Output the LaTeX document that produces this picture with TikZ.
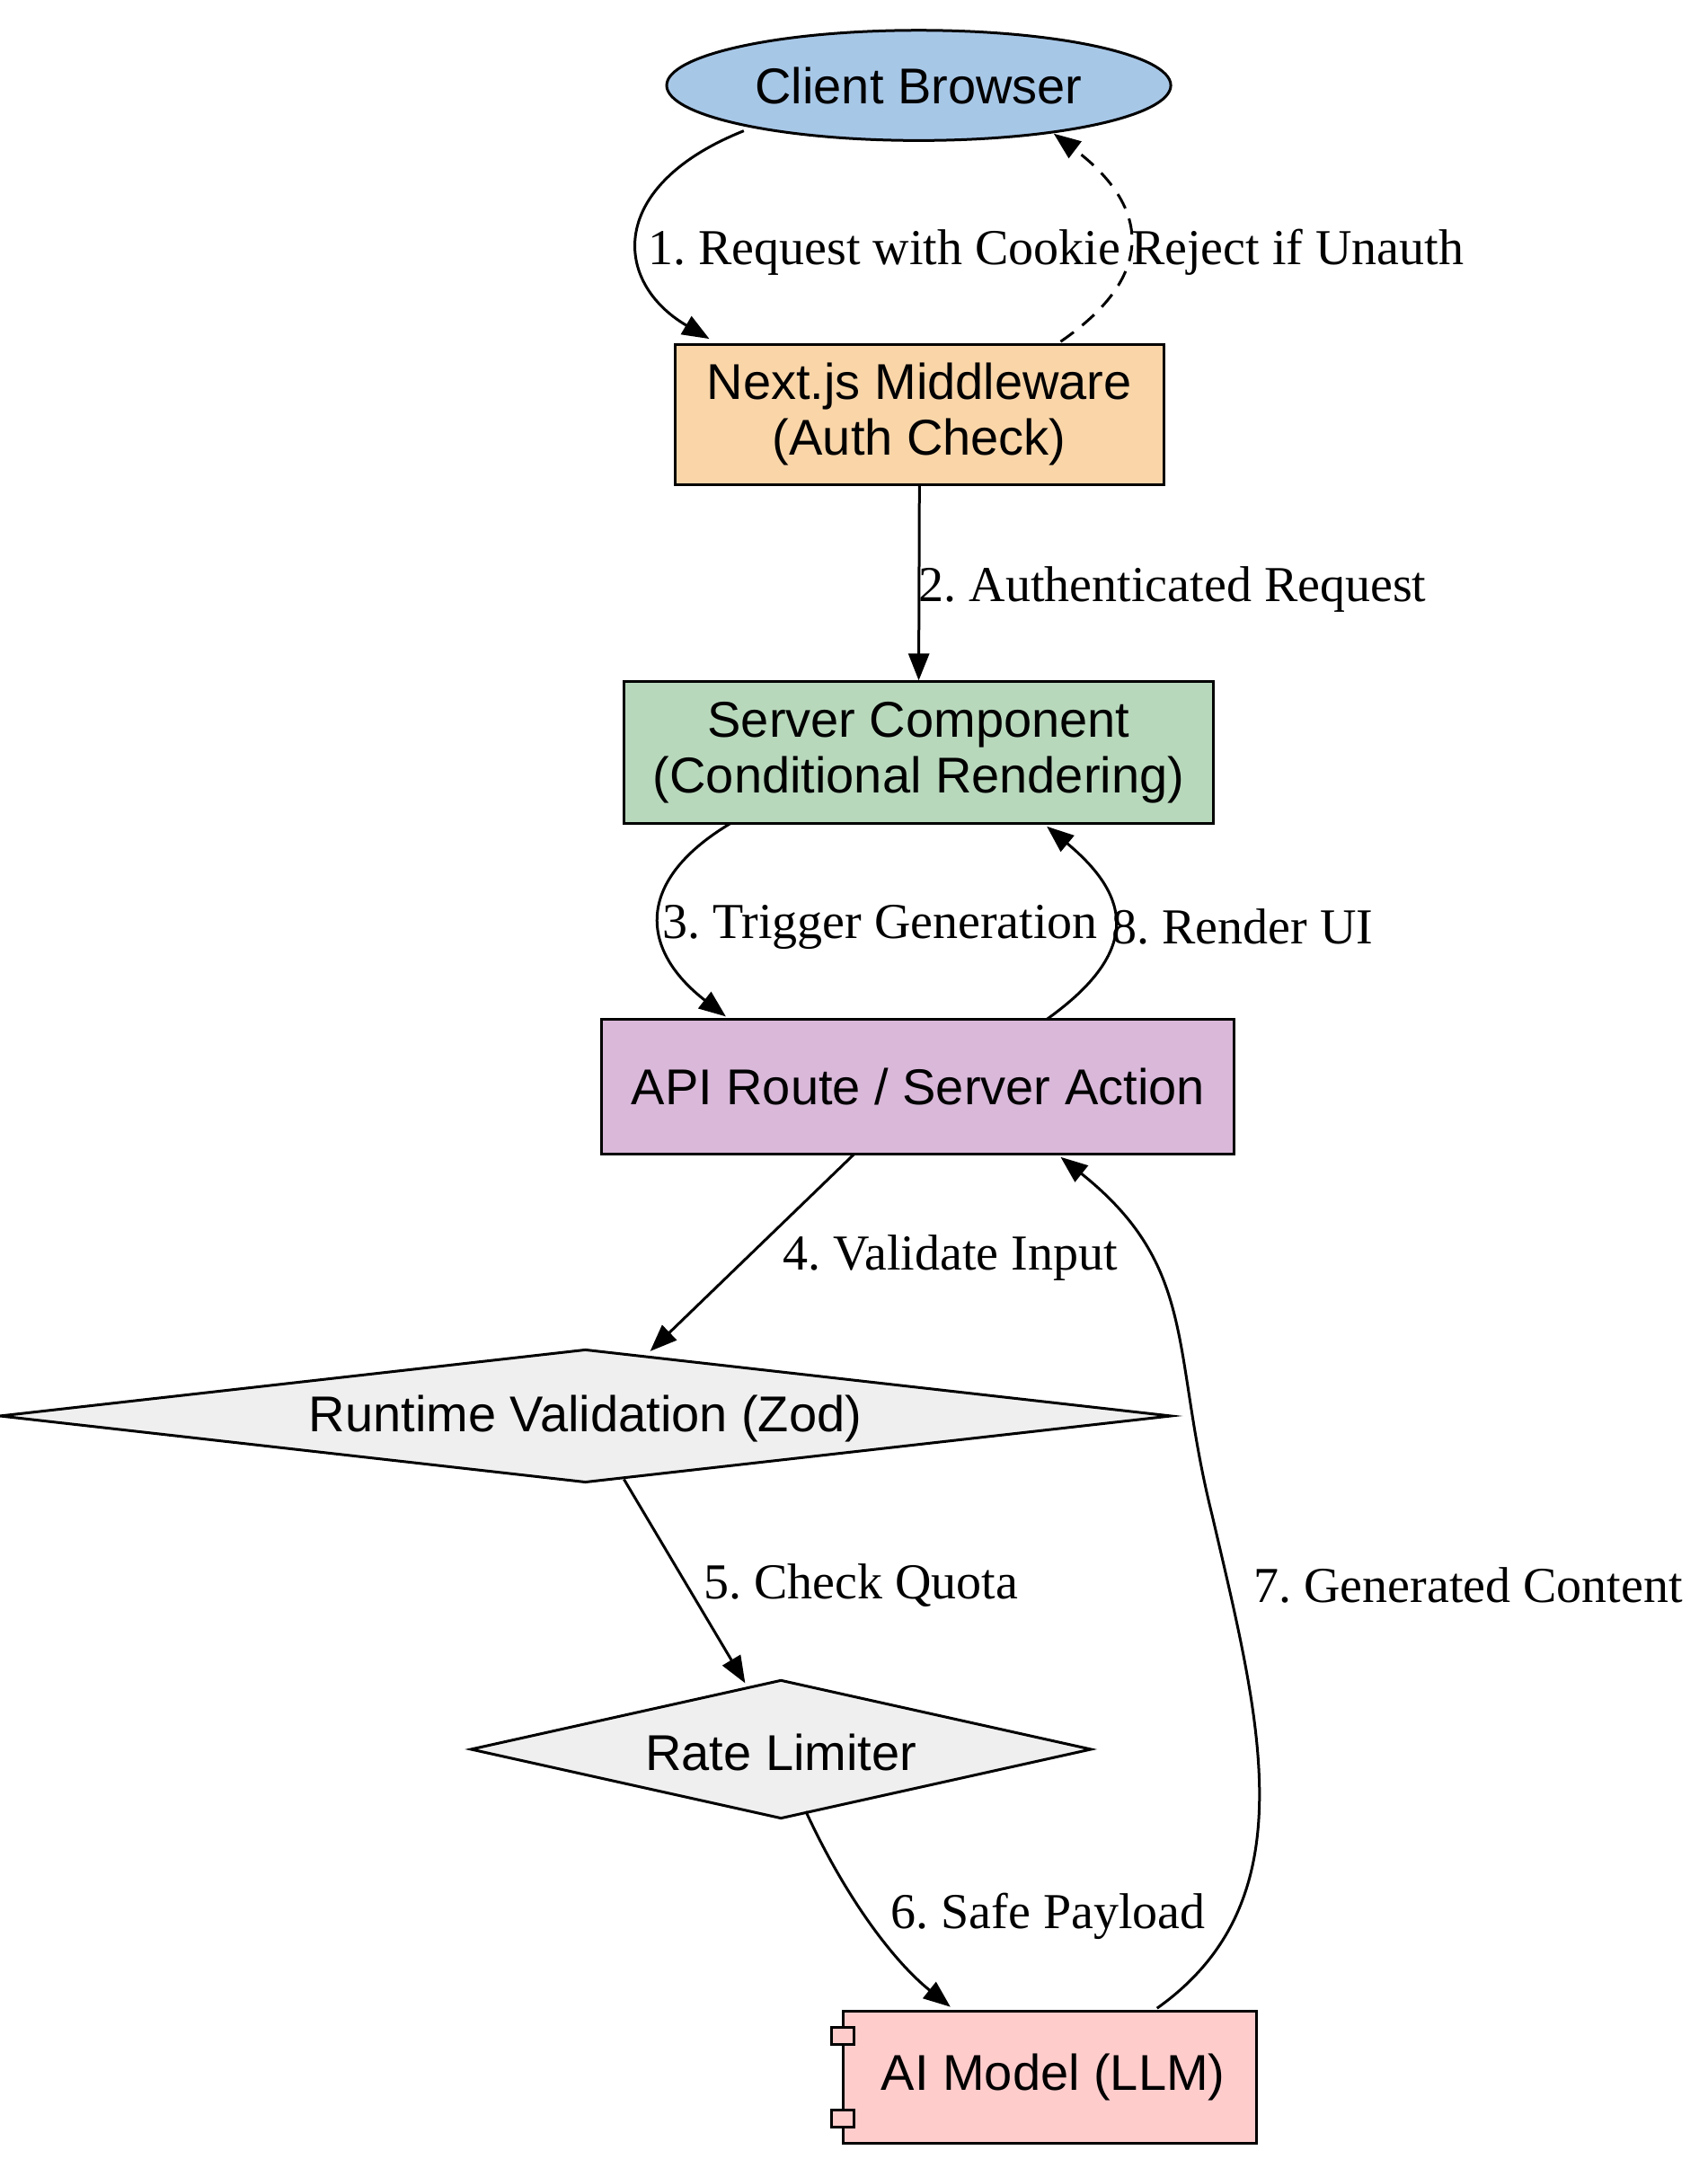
\documentclass[tikz,border=0pt]{standalone}
\usepackage{fontspec}
\setmainfont{Liberation Serif}
\newfontfamily\nodefont{Liberation Sans}
\usetikzlibrary{arrows.meta,shapes.geometric}
\definecolor{cb}{HTML}{A7C7E7}
\definecolor{mw}{HTML}{F9D5A8}
\definecolor{sc}{HTML}{B8D8BC}
\definecolor{api}{HTML}{D9B8D9}
\definecolor{dia}{HTML}{EFEFEF}
\definecolor{ai}{HTML}{FFCCCC}
\begin{document}
\frenchspacing
\begin{tikzpicture}[x=0.7666pt,y=-0.7666pt,
  box/.style={draw,line width=1.5pt,font=\nodefont\fontsize{28}{31}\selectfont,align=center,inner sep=0},
  lab/.style={font=\fontsize{28}{32}\selectfont,inner sep=0},
  edge/.style={line width=1.5pt,-{Triangle[length=15pt,width=11.5pt]}}]
\useasboundingbox (0,0) rectangle (1240,1574);
\node[box,ellipse,fill=cb,minimum width=366*0.7666pt,minimum height=80*0.7666pt] (client) at (667,62) {Client Browser};
\node[box,fill=mw,minimum width=355*0.7666pt,minimum height=102*0.7666pt] (mw) at (667.5,301) {Next.js Middleware\\(Auth Check)};
\node[box,fill=sc,minimum width=428*0.7666pt,minimum height=103*0.7666pt] (sc) at (667,546.5) {Server Component\\(Conditional Rendering)};
\node[box,fill=api,minimum width=459*0.7666pt,minimum height=98*0.7666pt] (api) at (666.5,789) {API Route / Server Action};
\draw[line width=1.5pt,fill=dia] (0,1028) -- (425,980) -- (850,1028) -- (425,1076) -- cycle;
\node[lab,font=\nodefont\fontsize{28}{32}\selectfont] (rv) at (425,1030) {Runtime Validation (Zod)};
\draw[line width=1.5pt,fill=dia] (342,1270) -- (567,1220) -- (792,1270) -- (567,1320) -- cycle;
\node[lab,font=\nodefont\fontsize{28}{32}\selectfont] (rl) at (567,1272) {Rate Limiter};
\node[box,fill=ai,minimum width=300*0.7666pt,minimum height=96*0.7666pt] (ai) at (762,1508) {\hspace*{4pt}AI Model (LLM)};
\draw[line width=1.5pt,fill=ai] (604,1472) rectangle (620,1484);
\draw[line width=1.5pt,fill=ai] (604,1532) rectangle (620,1544);
\coordinate (rvt) at (472,981);
\coordinate (rvb) at (453,1074);
\coordinate (rlt) at (541,1222);
\coordinate (rlb) at (585,1315);
% edges
\draw[edge] (540,95) .. controls (440,135) and (445,205) .. (515,246);
\node[lab] at (642,183) {1. Request with Cookie};
\draw[edge,dash pattern=on 9pt off 6pt] (770,248) .. controls (840,200) and (835,150) .. (765,97);
\node[lab] at (942,183) {Reject if Unauth};
\draw[edge] (mw.south) -- (sc.north);
\node[lab,anchor=west] at (667,428) {2. Authenticated Request};
\draw[edge] (530,598) .. controls (460,640) and (465,690) .. (527,738);
\node[lab] at (639,673) {3. Trigger Generation};
\draw[edge] (760,740) .. controls (830,690) and (820,650) .. (760,600);
\node[lab,anchor=west] at (807,673) {8. Render UI};
\draw[edge] (620,838) -- (rvt);
\node[lab] at (690,913) {4. Validate Input};
\draw[edge] (rvb) -- (rlt);
\node[lab] at (625,1151) {5. Check Quota};
\draw[edge] (rlb) .. controls (615,1380) and (650,1425) .. (690,1457);
\node[lab] at (761,1391) {6. Safe Payload};
\draw[edge] (840,1458) .. controls (950,1380) and (915,1250) .. (880,1100) .. controls (850,980) and (870,920) .. (770,840);
\node[lab] at (1066,1151) {7. Generated Content};
\end{tikzpicture}
\end{document}
